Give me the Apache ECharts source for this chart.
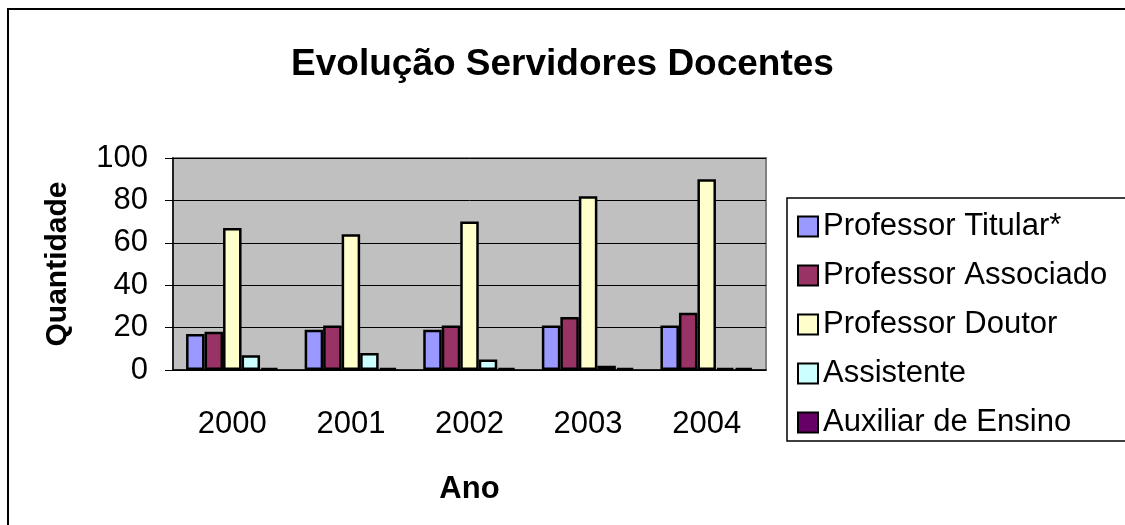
<!DOCTYPE html>
<html>
<head>
<meta charset="utf-8">
<script src="https://cdn.jsdelivr.net/npm/echarts@6/dist/echarts.min.js"></script>
<style>
  html, body { margin: 0; padding: 0; background: #fff; }
  #main { width: 1125px; height: 525px; }
</style>
</head>
<body>
<div id="main"></div>
<script>
var anos = ['2000', '2001', '2002', '2003', '2004'];
var titular = [17, 19, 19, 21, 21];
var associado = [18, 21, 21, 25, 27];
var doutor = [67, 64, 70, 82, 90];
var assistente = [7, 8, 5, 2, 1];
var auxiliar = [1, 1, 1, 1, 1];

var nomes = ['Professor Titular*', 'Professor Associado', 'Professor Doutor', 'Assistente', 'Auxiliar de Ensino'];
var cores = ['#9999FF', '#993366', '#FFFFCC', '#CCFFFF', '#660066'];
var valores = [titular, associado, doutor, assistente, auxiliar];

var fonte = '"Liberation Sans", Arial, sans-serif';

(function () {
  var myChart = echarts.init(document.getElementById('main'));

  var series = nomes.map(function (nome, i) {
    return {
      name: nome,
      type: 'bar',
      data: valores[i],
      barGap: '0%',
      barCategoryGap: '22%',
      itemStyle: { color: cores[i], borderColor: '#000', borderWidth: 2.5 }
    };
  });

  var option = {
    animation: false,
    backgroundColor: '#fff',
    textStyle: { fontFamily: fonte, color: '#000' },
    title: {
      text: 'Evolução Servidores Docentes',
      left: 'center',
      top: 46,
      padding: 0,
      textStyle: { fontFamily: fonte, fontSize: 37, fontWeight: 'bold', color: '#000' }
    },
    graphic: [
      {
        // moldura externa, sai pela direita e por baixo
        type: 'polyline', z: -1,
        shape: { points: [[8, 600], [8, 9], [1200, 9]] },
        style: { fill: 'none', stroke: '#000', lineWidth: 2 }
      },
      {
        // caixa da legenda, cortada à direita
        type: 'polyline', z: 0,
        shape: { points: [[1200, 198], [787, 198], [787, 441], [1200, 441]] },
        style: { fill: '#fff', stroke: '#000', lineWidth: 1.5 }
      }
    ],
    legend: {
      orient: 'vertical',
      left: 797,
      top: 211,
      padding: 0,
      itemWidth: 20,
      itemHeight: 20,
      itemGap: 18,
      itemTextGap: 5,
      icon: 'rect',
      z: 5,
      textStyle: { fontFamily: fonte, fontSize: 31, color: '#000' },
      data: nomes
    },
    grid: {
      left: 173, top: 158, right: 359, bottom: 155,
      show: true,
      backgroundColor: '#C0C0C0',
      borderColor: '#808080',
      borderWidth: 2
    },
    xAxis: {
      type: 'category',
      data: anos,
      name: 'Ano',
      nameLocation: 'middle',
      nameGap: 104,
      nameTextStyle: { fontFamily: fonte, fontSize: 31, fontWeight: 'bold', color: '#000' },
      axisLine: { lineStyle: { color: '#000', width: 1.5 } },
      axisTick: { length: 8, lineStyle: { color: '#000' } },
      axisLabel: { margin: 39, fontFamily: fonte, fontSize: 31, color: '#000' }
    },
    yAxis: {
      type: 'value',
      min: 0, max: 100, interval: 20,
      name: 'Quantidade',
      nameLocation: 'middle',
      nameGap: 100,
      nameTextStyle: { fontFamily: fonte, fontSize: 30, fontWeight: 'bold', color: '#000' },
      axisLine: { show: true, lineStyle: { color: '#000', width: 1.5 } },
      axisTick: { show: true, length: 8, lineStyle: { color: '#000' } },
      axisLabel: { margin: 25, fontFamily: fonte, fontSize: 31, color: '#000' },
      splitLine: { lineStyle: { color: '#000', width: 1 } }
    },
    series: series
  };

  myChart.setOption(option);
})();
</script>
</body>
</html>
